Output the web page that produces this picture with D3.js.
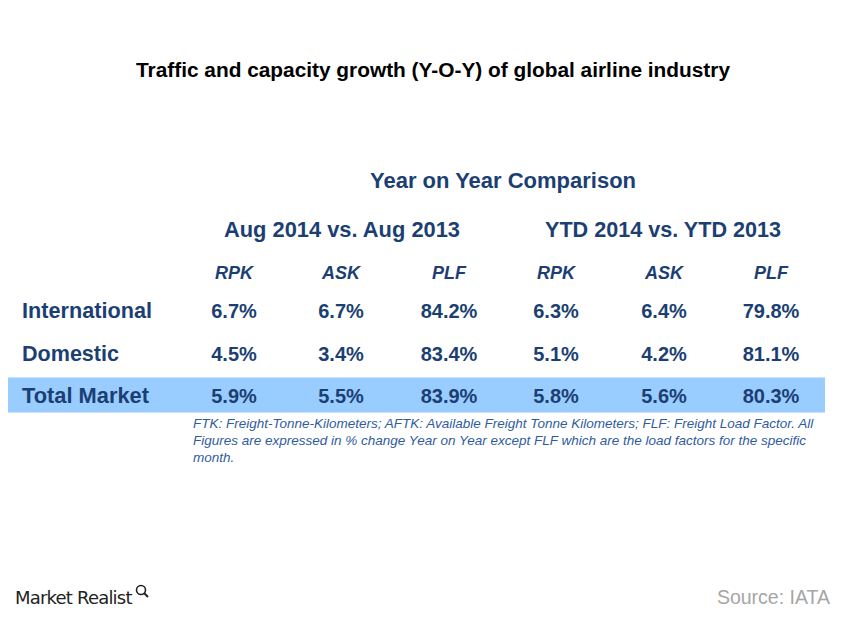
<!DOCTYPE html>
<html><head><meta charset="utf-8">
<script src="https://cdn.jsdelivr.net/npm/d3@7"></script>
<style>body{margin:0;background:#fff}svg{display:block}</style>
</head><body>
<script>
const title = "Traffic and capacity growth (Y-O-Y) of global airline industry";
const groups = ["Aug 2014 vs. Aug 2013", "YTD 2014 vs. YTD 2013"];
const columns = ["RPK", "ASK", "PLF", "RPK", "ASK", "PLF"];
const rows = ["International", "Domestic", "Total Market"];
const international = ["6.7%", "6.7%", "84.2%", "6.3%", "6.4%", "79.8%"];
const domestic = ["4.5%", "3.4%", "83.4%", "5.1%", "4.2%", "81.1%"];
const totalMarket = ["5.9%", "5.5%", "83.9%", "5.8%", "5.6%", "80.3%"];
const values = [international, domestic, totalMarket];
const footnote = ["FTK: Freight-Tonne-Kilometers; AFTK: Available Freight Tonne Kilometers; FLF: Freight Load Factor. All",
  "Figures are expressed in % change Year on Year except FLF which are the load factors for the specific",
  "month."];

const W = 845, H = 617;
const navy = "#1c3f73";
const font = "Liberation Sans, Arial, sans-serif";
const svg = d3.select("body").append("svg").attr("width", W).attr("height", H);
svg.append("rect").attr("width", W).attr("height", H).attr("fill", "#fff");

svg.append("text").attr("x", 433).attr("y", 77).attr("text-anchor", "middle")
  .attr("font-family", font).attr("font-weight", "bold")
  .attr("font-size", 20).attr("fill", "#000")
  .attr("textLength", 594).attr("lengthAdjust", "spacingAndGlyphs").text(title);

const y = d3.scaleBand().domain(d3.range(rows.length)).range([292, 419.5]);

// highlight band for total row
svg.append("rect").attr("x", 8).attr("width", 817)
  .attr("y", y(2) + 0.5).attr("height", 35).attr("fill", "#99ccff");

svg.append("text").attr("x", 503).attr("y", 188).attr("text-anchor", "middle")
  .attr("font-family", font).attr("font-weight", "bold").attr("font-size", 22)
  .attr("fill", navy).attr("textLength", 266).attr("lengthAdjust", "spacingAndGlyphs")
  .text("Year on Year Comparison");

svg.selectAll("text.grp").data(groups).join("text").attr("class", "grp")
  .attr("x", (d, i) => [342, 663][i]).attr("y", 237).attr("text-anchor", "middle")
  .attr("font-family", font).attr("font-weight", "bold").attr("font-size", 22)
  .attr("fill", navy).attr("textLength", 236).attr("lengthAdjust", "spacingAndGlyphs")
  .text(d => d);

const colCenters = [234, 341, 449, 556, 664, 771];
svg.selectAll("text.col").data(columns).join("text").attr("class", "col")
  .attr("x", (d, i) => colCenters[i]).attr("y", 279).attr("text-anchor", "middle")
  .attr("font-family", font).attr("font-weight", "bold").attr("font-style", "italic")
  .attr("font-size", 18).attr("fill", navy).text(d => d);

svg.selectAll("text.row").data(rows).join("text").attr("class", "row")
  .attr("x", 22).attr("y", (d, i) => y(i) + 26)
  .attr("font-family", font).attr("font-weight", "bold").attr("font-size", 22)
  .attr("fill", navy).attr("textLength", (d, i) => [130, 97, 127][i]).attr("lengthAdjust", "spacingAndGlyphs")
  .text(d => d);

values.forEach((row, r) => {
  svg.selectAll("text.v" + r).data(row).join("text").attr("class", "v" + r)
    .attr("x", (d, i) => colCenters[i]).attr("y", y(r) + 26).attr("text-anchor", "middle")
    .attr("font-family", font).attr("font-weight", "bold").attr("font-size", 20)
    .attr("fill", navy).text(d => d);
});

svg.selectAll("text.fn").data(footnote).join("text").attr("class", "fn")
  .attr("x", 193).attr("y", (d, i) => 428 + i * 17)
  .attr("font-family", font).attr("font-style", "italic").attr("font-size", 13.5)
  .attr("fill", "#2f5c9e").text(d => d);

svg.append("text").attr("x", 15).attr("y", 604)
  .attr("font-family", "DejaVu Sans, sans-serif").attr("font-size", 18).attr("letter-spacing", -0.8)
  .attr("fill", "#222").text("Market Realist");
const mg = svg.append("g").attr("transform", "translate(141,590)");
mg.append("circle").attr("r", 4.5).attr("fill", "none").attr("stroke", "#222").attr("stroke-width", 1.6);
mg.append("line").attr("x1", 3).attr("y1", 3).attr("x2", 7).attr("y2", 7).attr("stroke", "#222").attr("stroke-width", 2);

svg.append("text").attr("x", 830).attr("y", 604).attr("text-anchor", "end")
  .attr("font-family", font).attr("font-size", 19.5).attr("fill", "#a6a6a6").text("Source: IATA");
</script>
</body></html>
